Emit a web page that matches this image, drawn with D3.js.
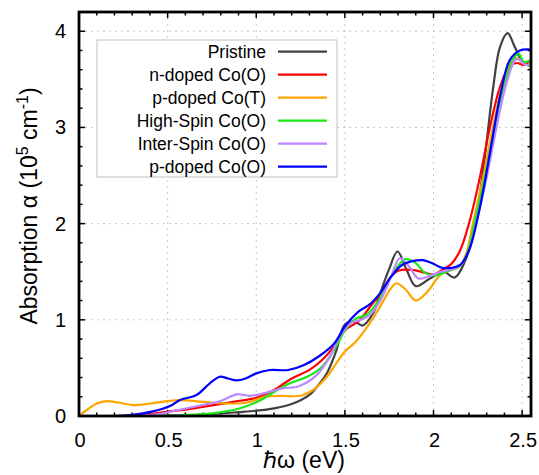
<!DOCTYPE html>
<html><head><meta charset="utf-8">
<script src="https://cdn.jsdelivr.net/npm/d3@7"></script>
<style>body{margin:0;background:#fff}svg{display:block}text{font-family:"Liberation Sans",Arial,Helvetica,sans-serif;fill:#000}</style>
</head><body><svg id="c" width="539" height="475"></svg>
<script>
const seriesNames = ["Pristine","n-doped Co(O)","p-doped Co(T)","High-Spin Co(O)","Inter-Spin Co(O)","p-doped Co(O)"];
const seriesColors = ["#404040","#ff0000","#ffa500","#18e818","#bb88ff","#0000ff"];
const xTicks = [0,0.5,1,1.5,2,2.5];
const yTicks = [0,1,2,3,4];

const pristineX = [0,0.3,0.5,0.7,0.9,1.0,1.1,1.2,1.3,1.35,1.4,1.45,1.5,1.555,1.6,1.66,1.7,1.75,1.797,1.848,1.9,1.98,2.055,2.12,2.18,2.225,2.28,2.337,2.375,2.418,2.46,2.497,2.55];
const pristineY = [0,0,0.005,0.015,0.04,0.055,0.08,0.125,0.22,0.32,0.45,0.67,0.95,0.98,0.94,1.07,1.28,1.53,1.71,1.52,1.35,1.43,1.50,1.44,1.62,1.9,2.555,3.42,3.835,3.98,3.83,3.70,3.63];

const ndopedX = [0,0.3,0.4,0.5,0.62,0.75,0.88,1.0,1.1,1.2,1.3,1.37,1.45,1.5,1.58,1.64,1.7,1.76,1.8,1.88,1.95,2.0,2.05,2.1,2.15,2.205,2.262,2.318,2.375,2.43,2.47,2.51,2.55];
const ndopedY = [0,0.005,0.02,0.045,0.07,0.11,0.15,0.19,0.27,0.39,0.48,0.58,0.75,0.89,0.99,1.13,1.27,1.45,1.51,1.52,1.49,1.47,1.52,1.58,1.72,2.035,2.485,3.0,3.42,3.64,3.67,3.65,3.70];

const pdopedTX = [0,0.05,0.1,0.16,0.22,0.31,0.4,0.5,0.58,0.65,0.75,0.85,0.95,1.05,1.15,1.25,1.32,1.38,1.42,1.47,1.51,1.56,1.62,1.7,1.75,1.79,1.84,1.9,1.96,2.04,2.1,2.15,2.19,2.22,2.28,2.335,2.39,2.44,2.47,2.51,2.55];
const pdopedTY = [0,0.07,0.13,0.155,0.14,0.114,0.13,0.155,0.165,0.155,0.14,0.13,0.14,0.2,0.21,0.21,0.27,0.37,0.46,0.6,0.69,0.77,0.91,1.14,1.3,1.38,1.32,1.2,1.28,1.47,1.52,1.56,1.72,1.98,2.48,3.0,3.45,3.70,3.72,3.66,3.64];

const highSpinX = [0,0.4,0.6,0.75,0.9,1.02,1.1,1.19,1.29,1.37,1.45,1.5,1.56,1.62,1.68,1.74,1.8,1.84,1.9,1.95,2.01,2.07,2.15,2.2,2.23,2.29,2.345,2.40,2.45,2.478,2.51,2.55];
const highSpinY = [0,0,0.01,0.028,0.075,0.16,0.25,0.34,0.41,0.51,0.72,0.89,1.01,1.05,1.17,1.38,1.56,1.63,1.59,1.49,1.46,1.50,1.56,1.75,2.0,2.48,3.0,3.45,3.71,3.77,3.68,3.70];

const interSpinX = [0,0.3,0.45,0.56,0.695,0.79,0.89,0.96,1.02,1.14,1.24,1.34,1.415,1.47,1.53,1.59,1.64,1.70,1.76,1.81,1.86,1.914,1.97,2.04,2.14,2.2,2.24,2.30,2.355,2.41,2.46,2.48,2.52,2.55];
const interSpinY = [0,0.002,0.02,0.062,0.114,0.15,0.225,0.21,0.225,0.285,0.31,0.425,0.616,0.823,0.963,1.0,1.05,1.2,1.446,1.64,1.56,1.43,1.45,1.50,1.55,1.72,2.0,2.48,3.0,3.45,3.70,3.71,3.65,3.66];

const pdopedOX = [0,0.2,0.3,0.41,0.52,0.57,0.663,0.738,0.795,0.84,0.889,0.94,1.0,1.077,1.18,1.27,1.35,1.44,1.5,1.58,1.64,1.70,1.76,1.82,1.88,1.94,1.99,2.05,2.1,2.15,2.2,2.262,2.318,2.375,2.43,2.487,2.55];
const pdopedOY = [0,0,0.012,0.045,0.11,0.166,0.218,0.34,0.408,0.39,0.37,0.39,0.443,0.478,0.478,0.53,0.616,0.754,0.93,1.09,1.16,1.28,1.446,1.567,1.61,1.62,1.59,1.54,1.54,1.57,1.72,2.17,2.73,3.32,3.70,3.80,3.81];

const seriesX = [pristineX, ndopedX, pdopedTX, highSpinX, interSpinX, pdopedOX];
const seriesY = [pristineY, ndopedY, pdopedTY, highSpinY, interSpinY, pdopedOY];

const L=79, R=531, T=12, B=416;
const x = d3.scaleLinear().domain([0,2.55]).range([L,R]);
const y = d3.scaleLinear().domain([0,4.2]).range([B,T]);
const svg = d3.select("#c");

// grid
const xMinor = d3.range(0,2.55,0.1);
const yMinor = d3.range(0,4.2,0.2);
svg.append("g").selectAll("line").data(xTicks.filter(d=>d>0)).join("line")
  .attr("x1",d=>x(d)).attr("x2",d=>x(d)).attr("y1",T).attr("y2",B)
  .attr("stroke","#c8c8c8").attr("stroke-width",1).attr("stroke-dasharray","2,4");
svg.append("g").selectAll("line").data(yTicks.filter(d=>d>0)).join("line")
  .attr("x1",L).attr("x2",R).attr("y1",d=>y(d)).attr("y2",d=>y(d))
  .attr("stroke","#c8c8c8").attr("stroke-width",1).attr("stroke-dasharray","2,4");

// ticks (inward, mirrored)
const tk = svg.append("g").attr("stroke","#000").attr("stroke-width",1.5);
xMinor.forEach(v=>{
  const major = xTicks.some(t=>Math.abs(t-v)<1e-6);
  const len = major?6:3.5;
  tk.append("line").attr("x1",x(v)).attr("x2",x(v)).attr("y1",B).attr("y2",B-len);
  tk.append("line").attr("x1",x(v)).attr("x2",x(v)).attr("y1",T).attr("y2",T+len);
});
yMinor.forEach(v=>{
  const major = yTicks.some(t=>Math.abs(t-v)<1e-6);
  const len = major?6:3.5;
  tk.append("line").attr("x1",L).attr("x2",L+len).attr("y1",y(v)).attr("y2",y(v));
  tk.append("line").attr("x1",R).attr("x2",R-len).attr("y1",y(v)).attr("y2",y(v));
});

// curves
svg.append("defs").append("clipPath").attr("id","clip").append("rect")
  .attr("x",L).attr("y",T).attr("width",R-L).attr("height",B-T);
const line = d3.line().x(d=>x(d[0])).y(d=>y(d[1])).curve(d3.curveCatmullRom.alpha(0.5));
const cg = svg.append("g").attr("clip-path","url(#clip)");
seriesX.forEach((xs,i)=>{
  const pts = xs.map((v,j)=>[v, seriesY[i][j]]);
  cg.append("path").attr("d",line(pts)).attr("fill","none")
    .attr("stroke",seriesColors[i]).attr("stroke-width",2.2).attr("stroke-linejoin","round");
});

// frame
svg.append("rect").attr("x",L).attr("y",T).attr("width",R-L).attr("height",B-T)
  .attr("fill","none").attr("stroke","#000").attr("stroke-width",2.8);

// tick labels
svg.append("g").selectAll("text").data(xTicks).join("text")
  .attr("x",d=>x(d)+1).attr("y",446.5).attr("text-anchor","middle").attr("font-size",20)
  .text(d=>d3.format("")(d));
svg.append("g").selectAll("text").data(yTicks).join("text")
  .attr("x",66).attr("y",d=>y(d)+7).attr("text-anchor","end").attr("font-size",20)
  .text(d=>d);

// axis titles
svg.append("text").attr("x",304).attr("y",468).attr("text-anchor","middle").attr("font-size",23)
  .text("ℏω (eV)");
const yt = svg.append("text").attr("transform","translate(37,206) rotate(-90)")
  .attr("text-anchor","middle").attr("font-size",23);
yt.append("tspan").text("Absorption α (10");
yt.append("tspan").attr("dy",-9).attr("font-size",16).text("5");
yt.append("tspan").attr("dy",9).text(" cm");
yt.append("tspan").attr("dy",-9).attr("font-size",16).text("-1");
yt.append("tspan").attr("dy",9).text(")");

// legend
const lg = svg.append("g");
lg.append("rect").attr("x",97).attr("y",40).attr("width",240).attr("height",137)
  .attr("fill","#fff").attr("stroke","#c0c0c0").attr("stroke-width",1);
seriesNames.forEach((n,i)=>{
  const cy = 51.7 + i*23;
  lg.append("text").attr("x",266).attr("y",cy+6.2).attr("text-anchor","end").attr("font-size",17.5).text(n);
  lg.append("line").attr("x1",278).attr("x2",327).attr("y1",cy).attr("y2",cy)
    .attr("stroke",seriesColors[i]).attr("stroke-width",2.2);
});
</script></body></html>
